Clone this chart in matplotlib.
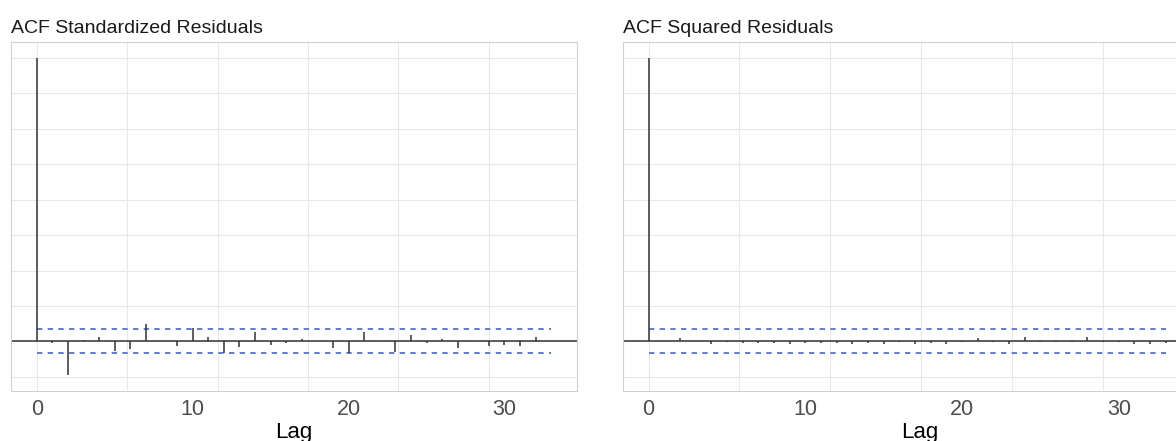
import numpy as np
import matplotlib
matplotlib.use('Agg')
import matplotlib.pyplot as plt

plt.rcParams['font.family'] = ['Liberation Sans', 'DejaVu Sans']

# ACF values, lags 0..33
lags = np.arange(34)
acf_std = [1.0, -0.005, -0.119, 0.006, 0.014, -0.033, -0.027, 0.061, 0.002, -0.015,
           0.049, 0.017, -0.041, -0.021, 0.032, -0.013, -0.006, 0.010, 0.001, -0.025,
           -0.041, 0.032, 0.002, -0.037, 0.024, -0.005, 0.010, -0.022, 0.002, -0.016,
           -0.012, -0.018, 0.014, 0.002]
acf_sq = [1.0, 0.001, 0.011, 0.003, -0.009, -0.001, -0.005, -0.006, -0.006, -0.009,
          -0.005, -0.005, -0.005, -0.008, -0.005, -0.008, -0.003, -0.010, -0.005, -0.008,
          -0.001, 0.012, -0.002, -0.010, 0.014, -0.001, -0.001, -0.002, 0.014, -0.001,
          -0.003, -0.010, -0.010, -0.006]
conf = 0.042
titles = ['ACF Standardized Residuals', 'ACF Squared Residuals']
xticks = [0, 10, 20, 30]
grid_x = [0, 5.8, 11.6, 17.4, 23.2, 29.0, 34.8]
grid_y = np.arange(-0.125, 1.01, 0.125)

fig = plt.figure(figsize=(11.76, 4.41), dpi=100)
W, H = 1176, 441
boxes = [(11, 566), (622.7, 569)]
label_x = [0.5, 0.522]

ymin = min(acf_std) - 0.05 * (1 - min(acf_std))
ymax = 1 + 0.05 * (1 - min(acf_std))

for (x0, w), vals, title, lx in zip(boxes, [acf_std, acf_sq], titles, label_x):
    ax = fig.add_axes([x0 / W, 1 - 391 / H, w / W, 349 / H])
    for gx in grid_x:
        ax.axvline(gx, color='#e8e8e8', lw=0.8, zorder=0)
    for gy in grid_y:
        ax.axhline(gy, color='#e8e8e8', lw=0.8, zorder=0)
    ax.axhline(0, color='#333333', lw=1.1, zorder=2)
    ax.vlines(lags, 0, vals, color='#333333', lw=1.1, zorder=3)
    ax.hlines([conf, -conf], 0, lags[-1], color='#3366ff', lw=1.2,
              linestyles=(0, (3.2, 3.2)), zorder=2)
    ax.set_xlim(-1.65, 34.65)
    ax.set_ylim(ymin, ymax)
    ax.set_xticks(xticks)
    ax.set_xticklabels([str(t) for t in xticks])
    ax.set_yticks([])
    ax.tick_params(axis='x', length=0, pad=6, labelsize=15.5, labelcolor='#4d4d4d')
    ax.set_xlabel('Lag', fontsize=16, color='black', labelpad=1)
    ax.xaxis.label.set_x(lx)
    ax.set_title(title, loc='left', fontsize=14, color='#1a1a1a', pad=6.5)
    for s in ax.spines.values():
        s.set_color('#d0d0d0')
        s.set_linewidth(0.8)

fig.savefig('out.png', dpi=100)
